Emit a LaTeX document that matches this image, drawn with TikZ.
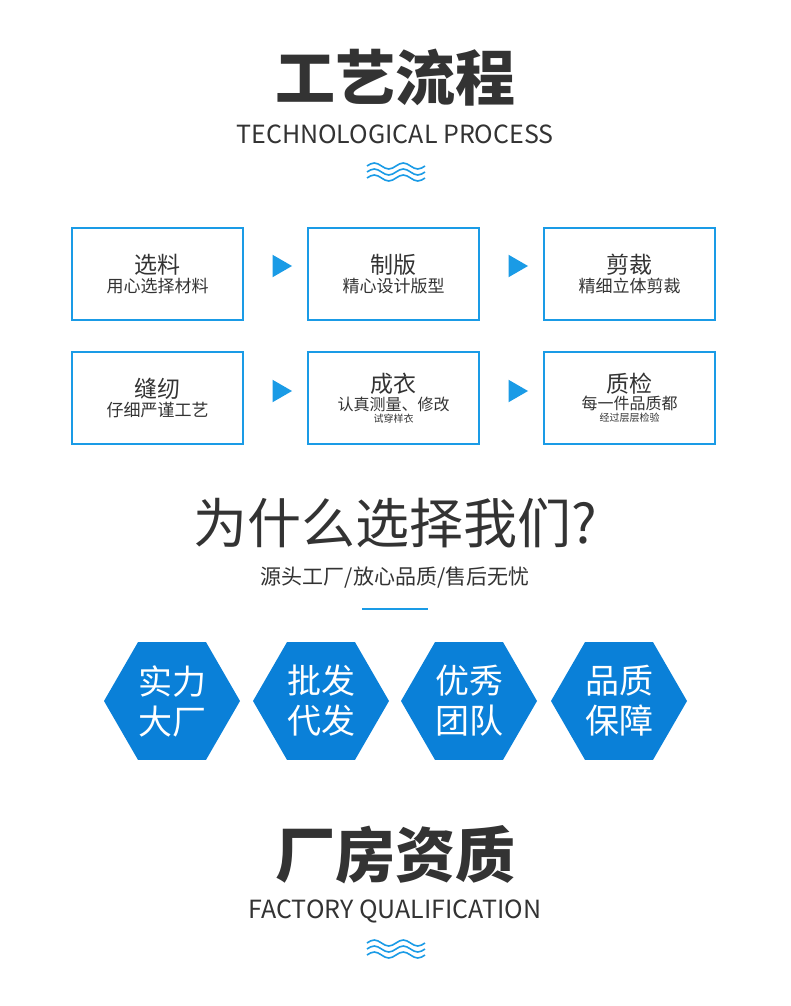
\documentclass[tikz,border=0pt]{standalone}
\usepackage{fontspec}
\setmainfont{Noto Sans CJK SC}
\usetikzlibrary{shapes.geometric}
\definecolor{bbox}{HTML}{1A9BE6}
\definecolor{hexc}{HTML}{0A80D8}
\definecolor{txt}{HTML}{333333}
\tikzset{
 box/.style={draw=bbox,line width=2pt,minimum width=171pt,minimum height=92pt,align=center,text=txt,inner sep=0pt},
 arr/.style={fill=bbox,regular polygon,regular polygon sides=3,shape border rotate=-90,minimum size=26pt,inner sep=0pt},
 hex/.style={fill=hexc,regular polygon,regular polygon sides=6,minimum size=136pt,inner sep=0pt,text=white,align=center,font=\fontsize{34}{40}\selectfont},
 big/.style={text=txt,font=\bfseries\fontsize{60}{64}\selectfont},
 en/.style={text=txt,font=\fontsize{25}{28}\selectfont},
 wave/.style={draw=bbox,line width=1.6pt}
}
\newcommand{\bt}[2]{\fontsize{23}{26}\selectfont #1\\[2pt]\fontsize{17}{20}\selectfont #2}
\newcommand{\btt}[3]{\fontsize{23}{26}\selectfont #1\\[1pt]\fontsize{16}{17}\selectfont #2\\#3}
\newcommand{\waves}[2]{\foreach \k in {0,6,12}{\draw[wave] (#1-29,#2+\k) sin (#1-21.75,#2+\k-3) cos (#1-14.5,#2+\k) sin (#1-7.25,#2+\k+3) cos (#1,#2+\k) sin (#1+7.25,#2+\k-3) cos (#1+14.5,#2+\k) sin (#1+21.75,#2+\k+3) cos (#1+29,#2+\k);}}
\begin{document}
\begin{tikzpicture}[x=1pt,y=-1pt]
\useasboundingbox[fill=white] (0,0) rectangle (790,1006);
\node[big] (t1) at (395,78) {工艺流程};
\node[en] (e1) at (395,134) {TECHNOLOGICAL PROCESS};
\waves{396}{166}
\node[box] (b1) at (157.5,274) {\bt{选料}{用心选择材料}};
\node[box] (b2) at (393.5,274) {\bt{制版}{精心设计版型}};
\node[box] (b3) at (629.5,274) {\bt{剪裁}{精细立体剪裁}};
\node[box] (b4) at (157.5,398) {\bt{缝纫}{仔细严谨工艺}};
\node[box] (b5) at (393.5,398) {\btt{成衣}{认真测量、修改}{试穿样衣}};
\node[box] (b6) at (629.5,398) {\btt{质检}{每一件品质都}{经过层层检验}};
\node[arr] (a1) at (279,266) {};
\node[arr] (a2) at (515,266) {};
\node[arr] (a3) at (279,391) {};
\node[arr] (a4) at (515,391) {};
\node[text=txt,font=\fontsize{54}{58}\selectfont] (t2) at (395,523) {为什么选择我们?};
\node[text=txt,font=\fontsize{21}{24}\selectfont] (s2) at (395,578) {源头工厂/放心品质/售后无忧};
\draw[bbox,line width=2pt] (362,609) -- (428,609);
\node[hex] (h1) at (172,701) {实力\\大厂};
\node[hex] (h2) at (321,701) {批发\\代发};
\node[hex] (h3) at (469,701) {优秀\\团队};
\node[hex] (h4) at (619,701) {品质\\保障};
\node[big] (t3) at (395,855) {厂房资质};
\node[en] (e3) at (395,911) {FACTORY QUALIFICATION};
\waves{396}{943}
\end{tikzpicture}
\end{document}
